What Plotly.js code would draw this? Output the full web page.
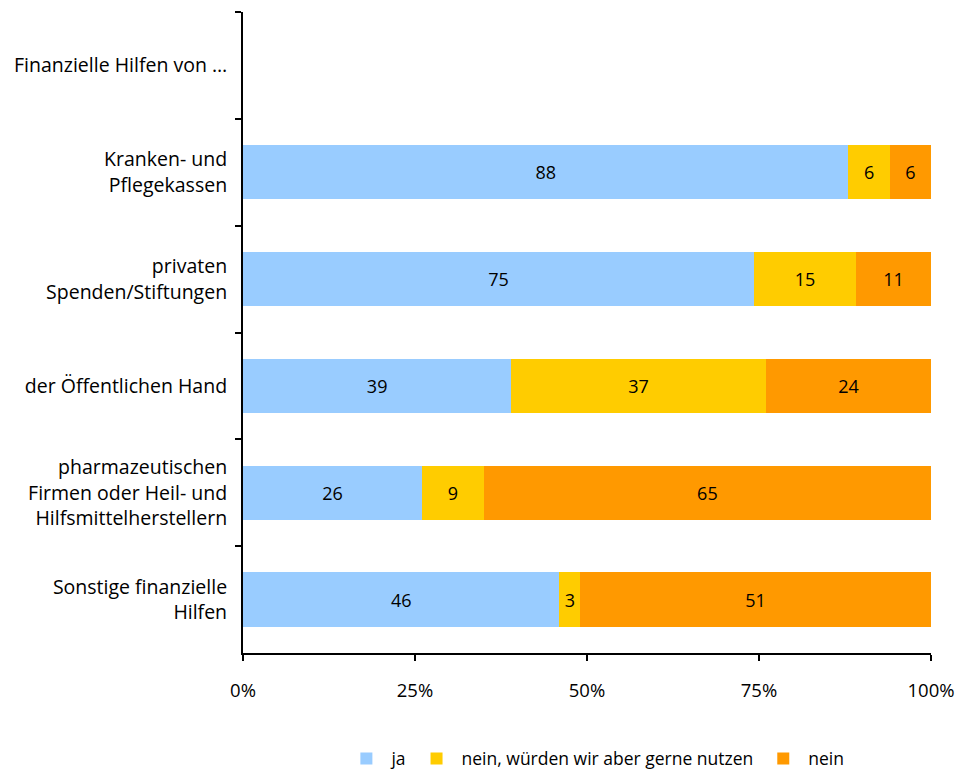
<!DOCTYPE html>
<html>
<head>
<meta charset="utf-8">
<script src="https://cdn.plot.ly/plotly-3.0.1.min.js"></script>
<style>html,body{margin:0;padding:0;background:#fff;}#chart{width:961px;height:771px;}</style>
</head>
<body>
<div id="chart"></div>
<script>
const categories = [
  "Finanzielle Hilfen von …",
  "Kranken- und<br>Pflegekassen",
  "privaten<br>Spenden/Stiftungen",
  "der Öffentlichen Hand",
  "pharmazeutischen<br>Firmen oder Heil- und<br>Hilfsmittelherstellern",
  "Sonstige finanzielle<br>Hilfen"
];
const seriesNames = ["ja", "nein, würden wir aber gerne nutzen", "nein"];
const ja = [null, 88, 75, 39, 26, 46];
const neinGerne = [null, 6, 15, 37, 9, 3];
const nein = [null, 6, 11, 24, 65, 51];
const xTickVals = [0, 25, 50, 75, 100];
const xTickText = ["0%", "25%", "50%", "75%", "100%"];
const colors = ["#99CCFF", "#FFCC00", "#FF9900"];

const FONT = "'Open Sans', sans-serif";
const allSeries = [ja, neinGerne, nein];
const traces = allSeries.map((vals, i) => ({
  type: "bar",
  orientation: "h",
  name: seriesNames[i],
  y: categories,
  x: vals,
  text: vals.map(v => v == null ? "" : String(v)),
  textposition: "inside",
  insidetextanchor: "middle",
  constraintext: "none",
  textfont: {family: FONT, size: 18, color: "#000"},
  marker: {color: colors[i], line: {width: 0}},
  hoverinfo: "x+name"
}));

const layout = {
  width: 961, height: 771,
  margin: {l: 243, r: 30, t: 12, b: 118},
  barmode: "stack",
  barnorm: "percent",
  bargap: 0.49,
  paper_bgcolor: "#fff",
  plot_bgcolor: "#fff",
  font: {family: FONT, size: 18, color: "#000"},
  showlegend: true,
  legend: {
    orientation: "h",
    x: 0.143, xanchor: "left",
    yref: "container",
    y: 0.016, yanchor: "middle",
    traceorder: "normal",
    itemwidth: 40,
    font: {family: FONT, size: 17.5, color: "#000"}
  },
  xaxis: {
    range: [0, 100],
    tickvals: xTickVals,
    ticktext: xTickText,
    tickfont: {family: FONT, size: 18.5, color: "#000"},
    ticks: "outside", ticklen: 6, tickwidth: 2, tickcolor: "#000",
    showline: true, linecolor: "#000", linewidth: 2,
    showgrid: false, zeroline: false,
    ticklabelstandoff: 14,
    automargin: false,
    fixedrange: true
  },
  yaxis: {
    type: "category",
    categoryorder: "array",
    categoryarray: categories,
    autorange: "reversed",
    tickson: "boundaries",
    tickfont: {family: FONT, size: 19.5, color: "#000"},
    ticks: "outside", ticklen: 6, tickwidth: 2, tickcolor: "#000",
    showline: true, linecolor: "#000", linewidth: 2,
    showgrid: false, zeroline: false,
    ticklabelstandoff: 10,
    automargin: false,
    fixedrange: true
  }
};

Plotly.newPlot("chart", traces, layout, {displayModeBar: false, staticPlot: true});
</script>
</body>
</html>
